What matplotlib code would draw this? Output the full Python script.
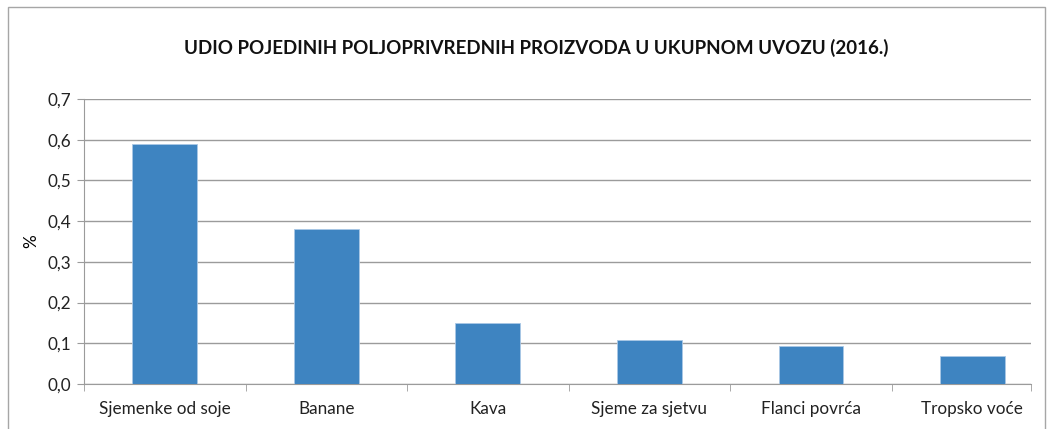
import matplotlib.pyplot as plt
from matplotlib.patches import Rectangle
from matplotlib.ticker import FixedLocator

plt.rcParams['font.family'] = ['Lato', 'DejaVu Sans']

categories = ["Sjemenke od soje", "Banane", "Kava", "Sjeme za sjetvu",
              "Flanci povrća", "Tropsko voće"]
values = [0.59, 0.38, 0.15, 0.108, 0.093, 0.068]
yticks = [0.0, 0.1, 0.2, 0.3, 0.4, 0.5, 0.6, 0.7]
ytick_labels = ["0,0", "0,1", "0,2", "0,3", "0,4", "0,5", "0,6", "0,7"]

fig = plt.figure(figsize=(10.53, 4.29), dpi=100)
ax = fig.add_axes([84 / 1053, 1 - 384 / 429, (1031 - 84) / 1053, (384 - 99) / 429])

# outer chart frame
fig.patches.append(Rectangle((8 / 1053, -0.01), (1045 - 8) / 1053, 1 - 7 / 429 + 0.01,
                             transform=fig.transFigure, fill=False,
                             edgecolor="#a6a6a6", linewidth=1))

x = range(len(categories))
ax.bar(x, values, width=0.40, color="#3e84c1", edgecolor="#a9c7e6", linewidth=0.6, zorder=3)

# the last category is cut short, as in the original
right = len(categories) - 0.5 - 0.137
ax.set_xlim(-0.5, right)
ax.set_ylim(0, 0.7)
ax.set_yticks(yticks)
ax.set_yticklabels(ytick_labels, fontsize=12.3, color="#222222")
ax.yaxis.grid(True, color="#9b9b9b", linewidth=1, zorder=0)
ax.set_xticks(list(x))
ax.set_xticklabels(categories, fontsize=12.3, color="#222222")
ax.tick_params(axis="x", length=0, pad=12)
ax.tick_params(axis="y", length=5, color="#9b9b9b", pad=4)
ax.xaxis.set_minor_locator(FixedLocator([i - 0.5 for i in range(len(categories))] + [right]))
ax.tick_params(axis="x", which="minor", length=5, color="#9b9b9b")

for side in ["top", "right"]:
    ax.spines[side].set_visible(False)
for side in ["left", "bottom"]:
    ax.spines[side].set_color("#9b9b9b")

ax.set_ylabel("%", fontsize=12.3, labelpad=6)
fig.text(536 / 1053, 1 - 48 / 429, "UDIO POJEDINIH POLJOPRIVREDNIH PROIZVODA U UKUPNOM UVOZU (2016.)",
         ha="center", va="center", fontsize=13.5, fontweight="bold", color="#111111")

fig.savefig("out.png", dpi=100)
